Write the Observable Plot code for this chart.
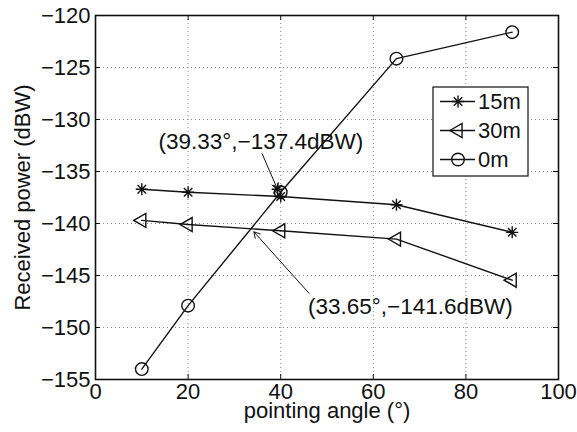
<!DOCTYPE html>
<html>
<head>
<meta charset="utf-8">
<script src="https://cdn.jsdelivr.net/npm/d3@7"></script>
<script src="https://cdn.jsdelivr.net/npm/@observablehq/plot@0.6"></script>
<style>
  html, body { margin: 0; padding: 0; background: #fff; }
  #chart { width: 577px; height: 432px; }
</style>
</head>
<body>
<div id="chart"></div>
<script>
// ---- data ----
const angles = [10, 20, 40, 65, 90];
const power15m = [-136.7, -137.0, -137.4, -138.2, -140.85];
const power30m = [-139.7, -140.1, -140.7, -141.5, -145.45];
const power0m  = [-154.0, -147.9, -137.0, -124.15, -121.6];
const seriesNames = ["15m", "30m", "0m"];
const extraStar = [{x: 39.33, y: -136.7}];
const xTicks = [0, 20, 40, 60, 80, 100];
const yTicks = [-155, -150, -145, -140, -135, -130, -125, -120];
const annotations = [
  {x: 13.6, y: -132.1, text: "(39.33°,−137.4dBW)"},
  {x: 45.9, y: -148.0, text: "(33.65°,−141.6dBW)"}
];
const arrows = [
  {x1: 36.0, y1: -133.3, x2: 39.3, y2: -136.7},
  {x1: 46.1, y1: -146.7, x2: 34.2, y2: -140.8}
];

// ---- layout ----
const W = 577, H = 432;
const mL = 95, mR = 19, mT = 15, mB = 53;
const plotW = W - mL - mR, plotH = H - mT - mB;
const tickLen = 5;
const font = "'Liberation Sans', Arial, Helvetica, sans-serif";

const rows = (vals) => angles.map((a, i) => ({x: a, y: vals[i]}));
const d15 = rows(power15m), d30 = rows(power30m), d0 = rows(power0m);

// MATLAB-like asterisk (+ and x combined)
const star8 = {
  draw(ctx, size) {
    const r = Math.sqrt(size / Math.PI);
    for (let k = 0; k < 4; k++) {
      const a = k * Math.PI / 4;
      const c = Math.cos(a) * r, s = Math.sin(a) * r;
      ctx.moveTo(-c, -s); ctx.lineTo(c, s);
    }
  }
};
const fmt = d => d < 0 ? "\u2212" + Math.abs(d) : String(d);
const inner = (arr, lo, hi) => arr.filter(d => d > lo && d < hi);

const triR = 5.2;
const lineOpts = {x: "x", y: "y", stroke: "#111", strokeWidth: 1.4};
const plot = Plot.plot({
  width: W, height: H,
  marginLeft: mL, marginRight: mR, marginTop: mT, marginBottom: mB,
  style: {fontSize: "22px", fontFamily: font, color: "#111", background: "#fff"},
  x: {domain: [0, 100]},
  y: {domain: [-155, -120]},
  marks: [
    Plot.gridX(inner(xTicks, 0, 100), {stroke: "#888", strokeOpacity: 1, strokeWidth: 1, strokeDasharray: "1,3"}),
    Plot.gridY(inner(yTicks, -155, -120), {stroke: "#888", strokeOpacity: 1, strokeWidth: 1, strokeDasharray: "1,3"}),
    Plot.tickX(xTicks, {x: d => d, insetTop: plotH - tickLen, stroke: "#111"}),
    Plot.tickX(xTicks, {x: d => d, insetBottom: plotH - tickLen, stroke: "#111"}),
    Plot.tickY(yTicks, {y: d => d, insetRight: plotW - tickLen, stroke: "#111"}),
    Plot.tickY(yTicks, {y: d => d, insetLeft: plotW - tickLen, stroke: "#111"}),
    Plot.axisX(xTicks, {tickSize: 0, tickPadding: 4, tickFormat: fmt, label: null, fontSize: 22}),
    Plot.axisY(yTicks, {tickSize: 0, tickPadding: 5, tickFormat: fmt, label: null, fontSize: 22}),
    Plot.frame({stroke: "#111", strokeWidth: 1.6}),
    Plot.line(d15, lineOpts),
    Plot.line(d30, lineOpts),
    Plot.line(d0, lineOpts),
    Plot.dot(d15, {x: "x", y: "y", symbol: star8, r: 6, fill: "none", stroke: "#111", strokeWidth: 1.4}),
    Plot.dot(extraStar, {x: "x", y: "y", symbol: star8, r: 6, fill: "none", stroke: "#111", strokeWidth: 1.4}),
    Plot.dot(d30, {x: "x", y: "y", symbol: "triangle", rotate: -90, r: triR, fill: "none", stroke: "#111", strokeWidth: 1.4}),
    Plot.dot(d0, {x: "x", y: "y", symbol: "circle", r: 6.3, fill: "none", stroke: "#111", strokeWidth: 1.4}),
    Plot.arrow(arrows, {x1: "x1", y1: "y1", x2: "x2", y2: "y2", stroke: "#111", strokeWidth: 1, headLength: 10}),
    Plot.text(annotations, {x: "x", y: "y", text: "text", textAnchor: "start", fontSize: 22.5, fill: "#111"}),
    Plot.text(["pointing angle (°)"], {frameAnchor: "bottom", textAnchor: "middle", lineAnchor: "middle", dy: 31, fontSize: 22, fill: "#111"}),
    Plot.text(["Received power (dBW)"], {frameAnchor: "left", textAnchor: "middle", lineAnchor: "middle", rotate: -90, dx: -73, fontSize: 22, fill: "#111"})
  ]
});
document.getElementById("chart").appendChild(plot);

// ---- legend (inside plot, top right) ----
const svg = d3.select(plot);
const lg = svg.append("g").attr("font-family", font).attr("font-size", 22).attr("text-anchor", "start");
const bx = 433, by = 87, bw = 95, bh = 89;
lg.append("rect").attr("x", bx).attr("y", by).attr("width", bw).attr("height", bh)
  .attr("fill", "#fff").attr("stroke", "#111").attr("stroke-width", 1.2);
const symbols = [
  {type: star8, r: 6, rot: 0},
  {type: d3.symbolTriangle, r: triR, rot: -90},
  {type: d3.symbolCircle, r: 6.3, rot: 0}
];
seriesNames.forEach((name, i) => {
  const cy = 101.5 + i * 29;
  lg.append("line").attr("x1", 440).attr("x2", 475).attr("y1", cy).attr("y2", cy)
    .attr("stroke", "#111").attr("stroke-width", 1.4);
  const s = symbols[i];
  lg.append("path").attr("d", d3.symbol(s.type, Math.PI * s.r * s.r)())
    .attr("transform", `translate(458,${cy}) rotate(${s.rot})`)
    .attr("fill", "none").attr("stroke", "#111").attr("stroke-width", 1.4);
  lg.append("text").attr("x", 478).attr("y", cy).attr("dy", "0.35em")
    .attr("text-anchor", "start").attr("fill", "#111").text(name);
});
</script>
</body>
</html>
